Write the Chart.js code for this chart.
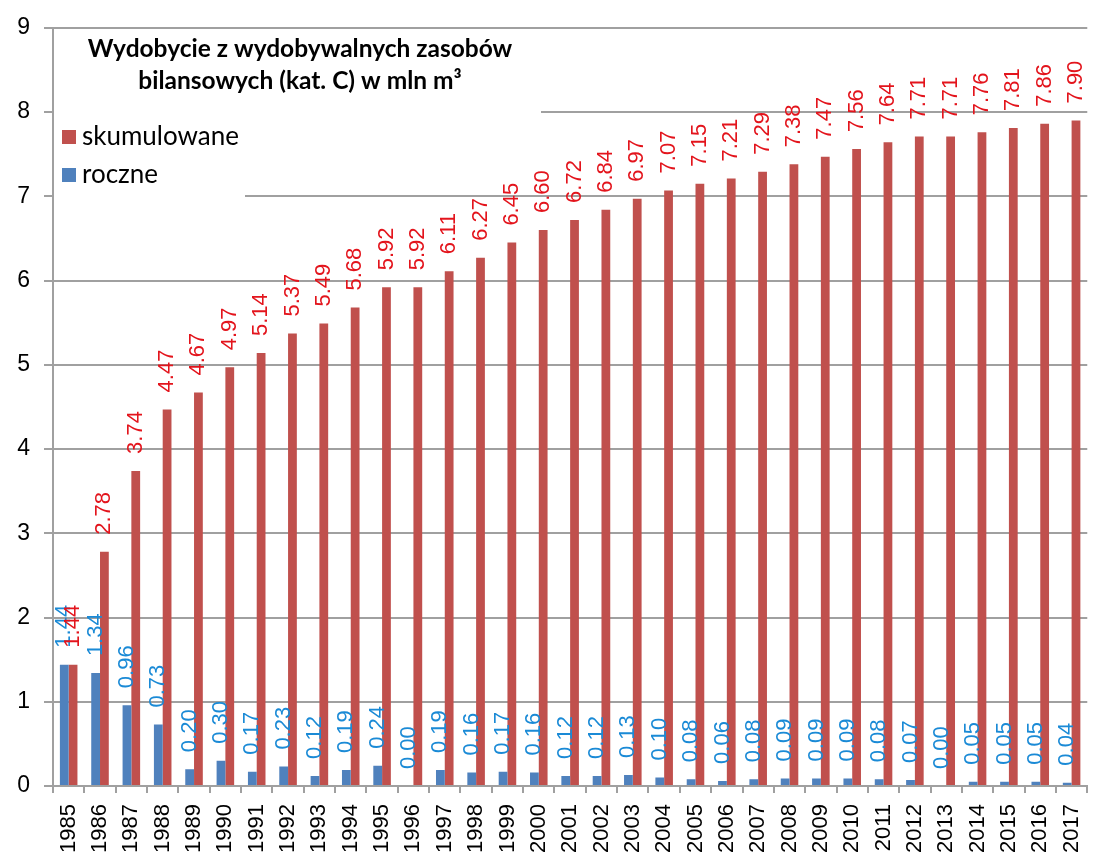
<!DOCTYPE html>
<html>
<head>
<meta charset="utf-8">
<script src="https://cdn.jsdelivr.net/npm/chart.js@4"></script>
<style>
html, body { margin: 0; padding: 0; background: #fff; }
#wrap { width: 1109px; height: 858px; }
</style>
</head>
<body>
<div id="wrap"><canvas id="chart"></canvas></div>
<script>
const years = ['1985', '1986', '1987', '1988', '1989', '1990', '1991', '1992', '1993', '1994', '1995',
    '1996', '1997', '1998', '1999', '2000', '2001', '2002', '2003', '2004', '2005', '2006', '2007',
    '2008', '2009', '2010', '2011', '2012', '2013', '2014', '2015', '2016', '2017']
const roczne = [1.44, 1.34, 0.96, 0.73, 0.20, 0.30, 0.17, 0.23, 0.12, 0.19, 0.24,
    0.00, 0.19, 0.16, 0.17, 0.16, 0.12, 0.12, 0.13, 0.10, 0.08, 0.06, 0.08,
    0.09, 0.09, 0.09, 0.08, 0.07, 0.00, 0.05, 0.05, 0.05, 0.04]
const skumulowane = [1.44, 2.78, 3.74, 4.47, 4.67, 4.97, 5.14, 5.37, 5.49, 5.68, 5.92,
    5.92, 6.11, 6.27, 6.45, 6.60, 6.72, 6.84, 6.97, 7.07, 7.15, 7.21, 7.29,
    7.38, 7.47, 7.56, 7.64, 7.71, 7.71, 7.76, 7.81, 7.86, 7.90]
const yMin = 0
const yMax = 9
const titleLines = ['Wydobycie z wydobywalnych zasobów', 'bilansowych (kat. C) w mln m³']

const gridColor = '#a0a0a0'
const font = 'Lato'
const numFont = '"Liberation Sans"'

// white box behind the title and legend, then title + legend text
const boxPlugin = {
    id: 'box',
    beforeDatasetsDraw(chart) {
        const ctx = chart.ctx
        const a = chart.chartArea
        const y = chart.scales.y
        ctx.save()
        ctx.fillStyle = '#fff'
        ctx.fillRect(a.left + 1, a.top + 2, 541 - a.left - 1, y.getPixelForValue(8) + 8 - a.top - 2)
        ctx.fillRect(a.left + 1, a.top + 2, 245 - a.left - 1, y.getPixelForValue(7) + 6 - a.top - 2)
        ctx.restore()
    },
    afterDraw(chart) {
        const ctx = chart.ctx
        const a = chart.chartArea
        ctx.save()
        ctx.fillStyle = '#000'
        ctx.textAlign = 'center'
        ctx.textBaseline = 'middle'
        ctx.font = 'bold 24.5px ' + font
        ctx.fillText(titleLines[0], 300, 49)
        ctx.fillText(titleLines[1], 300, 81)
        // legend: skumulowane first, roczne second
        const items = [chart.data.datasets[1], chart.data.datasets[0]]
        ctx.textAlign = 'left'
        ctx.font = '26px ' + font
        items.forEach(function (ds, i) {
            const cy = 137 + i * 38
            ctx.fillStyle = ds.backgroundColor
            ctx.fillRect(a.left + 9, cy - 7, 14, 14)
            ctx.fillStyle = '#000'
            ctx.fillText(ds.label, a.left + 29, cy)
        })
        ctx.restore()
    }
}

const labelPlugin = {
    id: 'barLabels',
    afterDatasetsDraw(chart) {
        const ctx = chart.ctx
        ctx.save()
        ctx.font = '22px ' + numFont
        ctx.textAlign = 'left'
        ctx.textBaseline = 'middle'
        chart.data.datasets.forEach(function (ds, di) {
            const meta = chart.getDatasetMeta(di)
            ctx.fillStyle = ds.labelColor
            meta.data.forEach(function (bar, i) {
                ctx.save()
                ctx.translate(bar.x, bar.y - 17)
                ctx.rotate(-Math.PI / 2)
                ctx.fillText(ds.data[i].toFixed(2), 0, 0)
                ctx.restore()
            })
        })
        ctx.restore()
    }
}

const chart = new Chart(document.getElementById('chart'), {
    type: 'bar',
    data: {
        labels: years,
        datasets: [{
            label: 'roczne',
            data: roczne,
            backgroundColor: '#4f81bd',
            labelColor: '#1a8ad6',
            categoryPercentage: 0.56,
            barPercentage: 1.0
        }, {
            label: 'skumulowane',
            data: skumulowane,
            backgroundColor: '#c0504d',
            labelColor: '#e3141c',
            categoryPercentage: 0.56,
            barPercentage: 1.0
        }]
    },
    options: {
        responsive: true,
        maintainAspectRatio: false,
        animation: false,
        layout: { autoPadding: false, padding: { top: 23, right: 0, left: 0, bottom: 0 } },
        plugins: {
            legend: { display: false },
            tooltip: { enabled: false }
        },
        scales: {
            x: {
                offset: true,
                grid: { drawOnChartArea: false, drawTicks: true, tickLength: 7, color: gridColor, lineWidth: 2 },
                border: { color: gridColor, width: 2 },
                ticks: {
                    minRotation: 90, maxRotation: 90, autoSkip: false, padding: 11,
                    color: '#000', font: { family: numFont, size: 22 }
                },
                afterFit(s) { s.height = 72 }
            },
            y: {
                min: yMin,
                max: yMax,
                grid: { color: gridColor, lineWidth: 2, tickLength: 9 },
                border: { color: gridColor, width: 2 },
                ticks: {
                    stepSize: 1, padding: 14,
                    color: '#000', font: { family: numFont, size: 23 }
                },
                afterFit(s) { s.width = 53 }
            }
        }
    },
    plugins: [boxPlugin, labelPlugin]
})
</script>
</body>
</html>
